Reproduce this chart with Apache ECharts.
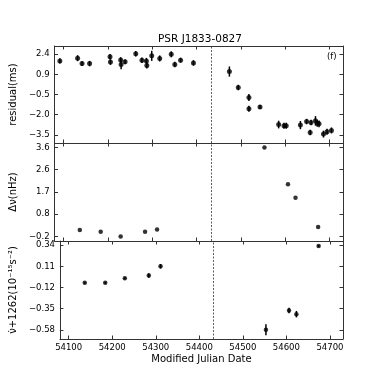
<!DOCTYPE html>
<html>
<head>
<meta charset="utf-8">
<script src="https://cdn.jsdelivr.net/npm/echarts@6/dist/echarts.min.js"></script>
<style>html,body{margin:0;padding:0;background:#fff}#c{width:382px;height:382px}</style>
</head>
<body>
<div id="c"></div>
<script>
// ---- data ----
const mjdRes = [54092,54132,54142,54159,54205,54206,54229,54230,54239,54263,54277,54287,54288,54299,54317,54343,54351,54364,54393,
  54474,54494,54518,54518,54543,54585,54597,54602,54634,54648,54656,54658,54668,54672,54676,54686,54694,54704];
const residual = [1.91,2.11,1.71,1.71,2.22,1.82,1.98,1.65,1.84,2.44,1.95,1.91,1.58,2.28,2.09,2.39,1.65,1.96,1.76,
  1.13,-0.04,-0.77,-1.60,-1.47,-2.75,-2.84,-2.84,-2.79,-2.53,-3.33,-2.60,-2.48,-2.66,-2.70,-3.45,-3.28,-3.18];
const residualErr = [0.2,0.22,0.18,0.2,0.2,0.2,0.2,0.35,0.18,0.2,0.2,0.22,0.22,0.37,0.22,0.22,0.2,0.18,0.2,
  0.37,0.2,0.25,0.22,0.15,0.28,0.22,0.22,0.3,0.2,0.2,0.2,0.35,0.25,0.25,0.25,0.22,0.22];
const mjdFit = [54137,54184,54229,54284,54311,54553,54606,54623,54674];
const deltaNu = [0.08,0.0,-0.2,0.0,0.1,3.6,2.03,1.45,0.21];
const nuDot = [-0.07,-0.07,-0.02,0.01,0.11,-0.58,-0.37,-0.41,0.33];
const nuDotErr = [0.01,0.01,0.01,0.025,0.025,0.06,0.03,0.035,0.01];
const glitchMJD = 54433;

const xTicks = [54100,54200,54300,54400,54500,54600,54700];
const xTickLabels = ['54100','54200','54300','54400','54500','54600','54700'];
const yTicks1 = [-3.5,-2.025,-0.55,0.925,2.4];
const yTickLabels1 = ['\u22123.5','\u22122.0','\u22120.5','0.9','2.4'];
const yTicks2 = [-0.2,0.75,1.7,2.65,3.6];
const yTickLabels2 = ['\u22120.2','0.8','1.7','2.6','3.6'];
const yTicks3 = [-0.58,-0.35,-0.12,0.11,0.34];
const yTickLabels3 = ['\u22120.58','\u22120.35','\u22120.12','0.11','0.34'];

// ---- chart ----
const FONT = 'DejaVu Sans';
const chart = echarts.init(document.getElementById('c'), null, {renderer:'canvas'});
const lineCol = '#333';
function labeler(vals, labels){
  return function(v){
    for (let i=0;i<vals.length;i++) if (Math.abs(vals[i]-v) < 1e-6) return labels[i];
    return '';
  };
}
const grids = [
  {left:47, right:39, top:46, height:97},
  {left:47, right:39, top:143, height:98},
  {left:47, right:39, top:241, height:98}
];
const yCfg = [
  {min:-4.1, max:3.0, ticks:yTicks1, labels:yTickLabels1, name:'residual(ms)', gap:31},
  {min:-0.39, max:3.79, ticks:yTicks2, labels:yTickLabels2, name:'\u0394\u03BD(nHz)', gap:22},
  {min:-0.68, max:0.385, ticks:yTicks3, labels:yTickLabels3, name:'\u03BD\u0307+1262(10\u207B\u00B9\u2075s\u207B\u00B2)', gap:28}
];
const xAxes = [], yAxes = [];
for (let g=0; g<3; g++){
  const isLast = g===2;
  xAxes.push({
    type:'value', gridIndex:g, position:'bottom', min:54080, max:54730,
    axisLine:{show:true, onZero:false, lineStyle:{color:lineCol, width:1}},
    axisTick:{show:true, inside:true, length:3.5, customValues:xTicks, lineStyle:{color:lineCol}},
    axisLabel:{show:isLast, customValues:xTicks, formatter:labeler(xTicks,xTickLabels), color:'#000', fontFamily:FONT, fontSize:8.5, margin:4},
    splitLine:{show:false},
    name: isLast ? 'Modified Julian Date' : '', nameLocation:'middle', nameGap:15,
    nameTextStyle:{color:'#000', fontFamily:FONT, fontSize:10}
  });
  xAxes.push({
    type:'value', gridIndex:g, position:'top', min:54080, max:54730,
    axisLine:{show:true, onZero:false, lineStyle:{color:lineCol, width:1}},
    axisTick:{show:true, inside:true, length:3.5, customValues:xTicks, lineStyle:{color:lineCol}},
    axisLabel:{show:false}, splitLine:{show:false}
  });
  const c = yCfg[g];
  yAxes.push({
    type:'value', gridIndex:g, position:'left', min:c.min, max:c.max,
    axisLine:{show:true, onZero:false, lineStyle:{color:lineCol, width:1}},
    axisTick:{show:true, inside:true, length:3.5, customValues:c.ticks, lineStyle:{color:lineCol}},
    axisLabel:{show:true, customValues:c.ticks, formatter:labeler(c.ticks,c.labels), color:'#000', fontFamily:FONT, fontSize:8.5, margin:5},
    splitLine:{show:false},
    name:c.name, nameLocation:'middle', nameRotate:90, nameGap:c.gap,
    nameTextStyle:{color:'#000', fontFamily:FONT, fontSize:10}
  });
  yAxes.push({
    type:'value', gridIndex:g, position:'right', min:c.min, max:c.max,
    axisLine:{show:true, onZero:false, lineStyle:{color:lineCol, width:1}},
    axisTick:{show:true, inside:true, length:3.5, customValues:c.ticks, lineStyle:{color:lineCol}},
    axisLabel:{show:false}, splitLine:{show:false}
  });
}
function errSeries(g, xs, ys, es){
  return {
    type:'custom', xAxisIndex:2*g, yAxisIndex:2*g, silent:true,
    data: xs.map((x,i)=>[x, ys[i], es[i]]),
    encode:{x:0, y:1},
    renderItem:function(params, api){
      const x=api.value(0), y=api.value(1), e=api.value(2);
      const p1=api.coord([x,y-e]), p2=api.coord([x,y+e]);
      return {type:'line', shape:{x1:p1[0],y1:p1[1],x2:p2[0],y2:p2[1]}, style:{stroke:'#000', lineWidth:1.5}};
    }
  };
}
function dotSeries(g, xs, ys, size){
  return {
    type:'scatter', xAxisIndex:2*g, yAxisIndex:2*g, silent:true,
    symbol:'circle', symbolSize:size,
    itemStyle:{color:'#000'},
    data: xs.map((x,i)=>[x, ys[i]])
  };
}
function glitchLine(g){
  return {
    type:'line', xAxisIndex:2*g, yAxisIndex:2*g, data:[], silent:true,
    markLine:{silent:true, symbol:['none','none'], label:{show:false},
      lineStyle:{color:'#333', width:0.8, type:[2,1.5]},
      data:[{xAxis:glitchMJD}]}
  };
}
const series = [
  glitchLine(0), glitchLine(1), glitchLine(2),
  errSeries(0, mjdRes, residual, residualErr),
  dotSeries(0, mjdRes, residual, 5),
  dotSeries(1, mjdFit, deltaNu, 4.5),
  errSeries(2, mjdFit, nuDot, nuDotErr),
  dotSeries(2, mjdFit, nuDot, 4.5)
];
chart.setOption({
  animation:false,
  backgroundColor:'#fff',
  title:{text:'PSR J1833-0827', left:195, top:29, textAlign:'center',
    textStyle:{color:'#000', fontFamily:FONT, fontSize:10.5, fontWeight:'normal'}},
  grid:grids,
  xAxis:xAxes,
  yAxis:yAxes,
  series:series,
  graphic:[{type:'text', left:327, top:52, style:{text:'(f)', fill:'#000', font:'8.5px "DejaVu Sans"'}}]
});
</script>
</body>
</html>
